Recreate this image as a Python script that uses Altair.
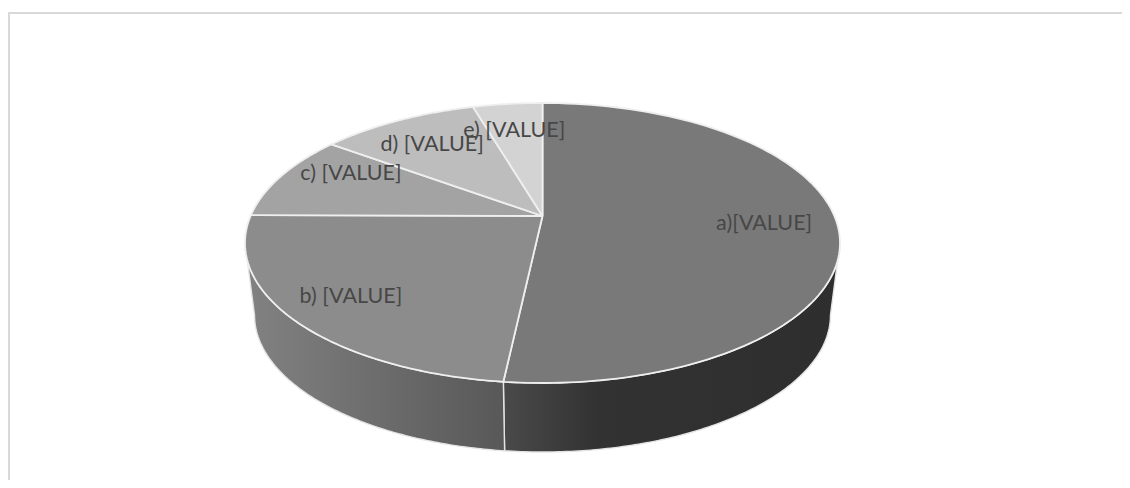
import numpy as np
import pandas as pd
import altair as alt

labels = ["a)[VALUE]", "b) [VALUE]", "c) [VALUE]", "d) [VALUE]", "e) [VALUE]"]
# slice sizes, percent of the turn
shares = [52.1, 26.1, 9.25, 8.8, 3.75]
colors = ["#797979", "#8c8c8c", "#a3a3a3", "#bdbdbd", "#d3d3d3"]

# label anchors, in pie units (1 = pie radius)
label_u = [0.745, -0.644, -0.644, -0.371, -0.095]
label_v = [0.136, -0.386, 0.493, 0.700, 0.800]

apex_v = 0.193          # the apex sits above the ellipse centre (perspective)
base_scale_u = 0.968    # the bottom rim is a little narrower
base_centre_v = -0.514
base_scale_v = 0.979

W, H = 1114, 472

TOP = dict(cu=0.0, cv=0.0, ru=1.0, rv=1.0)
BASE = dict(cu=0.0, cv=base_centre_v, ru=base_scale_u, rv=base_scale_v)


def rim(start, stop, e, n=120):
    t = np.radians(np.linspace(start, stop, n))
    return e["cu"] + e["ru"] * np.sin(t), e["cv"] + e["rv"] * np.cos(t)


def frame(u, v):
    return pd.DataFrame({"u": u, "v": v, "i": np.arange(len(u))})


edges = np.concatenate([[0], np.cumsum(shares)]) * 360 / sum(shares)

x_scale = alt.Scale(domain=[(8 - 542.5) / 297.5, (8 + W - 542.5) / 297.5], range=[0, W], nice=False, zero=False)
y_scale = alt.Scale(domain=[(243 - 8 - H) / 140, (243 - 8) / 140], range=[H, 0], nice=False, zero=False)


def poly(df, fill, stroke, sw):
    return alt.Chart(df).mark_line(fill=fill, stroke=stroke, strokeWidth=sw, clip=False).encode(
        x=alt.X("u:Q", scale=x_scale, axis=None),
        y=alt.Y("v:Q", scale=y_scale, axis=None),
        order="i:Q",
    )


def wall(start, stop):
    tu, tv = rim(start, stop, TOP)
    bu, bv = rim(stop, start, BASE)
    return frame(np.r_[tu, bu, tu[0]], np.r_[tv, bv, tv[0]])


grad_a = alt.LinearGradient(
    gradient="linear", x1=0, x2=1, y1=0, y2=0,
    stops=[alt.GradientStop(color="#4a4a4a", offset=0),
           alt.GradientStop(color="#323232", offset=0.28),
           alt.GradientStop(color="#2e2e2e", offset=1)],
)
grad_b = alt.LinearGradient(
    gradient="linear", x1=0, x2=1, y1=0, y2=0,
    stops=[alt.GradientStop(color="#828282", offset=0),
           alt.GradientStop(color="#585858", offset=1)],
)

layers = [
    poly(wall(90, edges[1]), grad_a, "#e4e4e4", 1.4),
    poly(wall(edges[1], 270), grad_b, "#e4e4e4", 1.4),
]
for k, col in enumerate(colors):
    au, av = rim(edges[k], edges[k + 1], TOP)
    layers.append(poly(frame(np.r_[0.0, au, 0.0], np.r_[apex_v, av, apex_v]), col, "#efefef", 1.8))

text_df = pd.DataFrame({"u": label_u, "v": label_v, "t": labels})
text = alt.Chart(text_df).mark_text(
    font="Lato", fontSize=21.5, color="#474747", align="center", baseline="middle"
).encode(
    x=alt.X("u:Q", scale=x_scale, axis=None),
    y=alt.Y("v:Q", scale=y_scale, axis=None),
    text="t:N",
)

top_line = alt.Chart(pd.DataFrame({"a": [0]})).mark_rule(color="#d9d9d9", strokeWidth=2).encode(
    x=alt.value(0), x2=alt.value(W), y=alt.value(5)
)
left_line = alt.Chart(pd.DataFrame({"a": [0]})).mark_rule(color="#d9d9d9", strokeWidth=2).encode(
    y=alt.value(4), y2=alt.value(H), x=alt.value(1)
)

chart = alt.layer(top_line, left_line, *layers, text).properties(
    width=W, height=H, padding=0, autosize=alt.AutoSizeParams(type="none")
).configure_view(stroke=None)

chart.save("out.html", embed_options={"renderer": "svg", "actions": False})
